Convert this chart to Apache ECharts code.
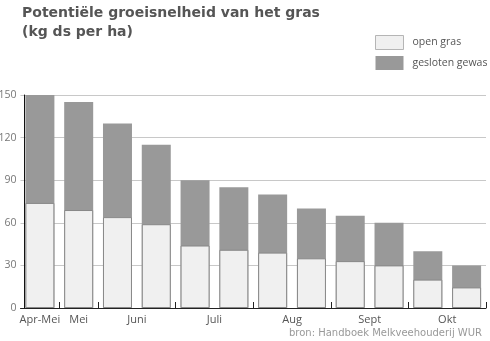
<!DOCTYPE html>
<html><head><meta charset="utf-8">
<script src="https://cdn.jsdelivr.net/npm/echarts@6/dist/echarts.min.js"></script>
<style>html,body{margin:0;padding:0;background:#fff}#c{width:490px;height:341px}</style>
</head><body><div id="c"></div>
<script>
// periods (bars)
var periods = ['apr-mei','mei','juni-1','juni-2','juli-1','juli-2','aug-1','aug-2','sept-1','sept-2','okt-1','okt-2'];
// month labels and how many bars belong to each month
var months = ['Apr-Mei','Mei','Juni','Juli','Aug','Sept','Okt'];
var monthBars = [1,1,2,2,2,2,2];
// values (kg ds per ha)
var openGras = [74,69,64,59,44,41,39,35,33,30,20,14.5];
var geslotenGewas = [150,145,130,115,90,85,80,70,65,60,40,30];
var yTicks = [0,30,60,90,120,150];

// label axis: two points per bar, label at month centre, tick at month boundaries
var labelData = [], labelAt = {}, tickAt = {0:false};
var pos = 0;
for (var i = 0; i < months.length; i++) {
  labelAt[pos + monthBars[i]] = months[i];
  pos += 2 * monthBars[i];
  tickAt[pos] = true;
}
for (var k = 0; k <= 2 * periods.length; k++) labelData.push(labelAt[k] || '');

var chart = echarts.init(document.getElementById('c'), null, {renderer:'canvas'});
var font = '"Open Sans", sans-serif';
chart.setOption({
  backgroundColor:'#fff',
  animation:false,
  title:{
    text:'Potentiële groeisnelheid van het gras\n(kg ds per ha)',
    left:22, top:4, padding:0,
    textStyle:{fontFamily:'"DejaVu Sans", Verdana, sans-serif', fontWeight:'bold', fontSize:14, color:'#555', lineHeight:19}
  },
  legend:{
    orient:'vertical', left:375, top:35, padding:0, itemWidth:28, itemHeight:14, itemGap:6,
    icon:'rect',
    textStyle:{fontFamily:font, fontSize:10.5, color:'#555', padding:[0,0,0,4]},
    data:[{name:'open gras', itemStyle:{color:'#f0f0f0', borderColor:'#b5b5b5', borderWidth:1}},
          {name:'gesloten gewas', itemStyle:{color:'#999'}}]
  },
  graphic:[{
    type:'text', right:8, bottom:3,
    style:{text:'bron: Handboek Melkveehouderij WUR', fill:'#999', font:'10px "DejaVu Sans", Verdana, sans-serif'}
  }],
  grid:{left:20.5, right:4, top:95, bottom:33, containLabel:false, outerBoundsMode:'none'},
  xAxis:[{
    type:'category', data:periods, position:'bottom',
    axisLine:{show:false}, axisTick:{show:false}, axisLabel:{show:false}
  },{
    type:'category', data:labelData, boundaryGap:false, position:'bottom',
    axisLine:{show:true, lineStyle:{color:'#222', width:1}},
    axisTick:{show:true, inside:true, length:6, lineStyle:{color:'#222'},
      interval:function(idx){return !!tickAt[idx];}},
    axisLabel:{show:true, interval:function(idx, v){return v !== '';}, color:'#555', fontFamily:font, fontSize:11, margin:6}
  }],
  yAxis:{
    type:'value', min:0, max:150, interval:30, offset:-4,
    axisLine:{show:true, lineStyle:{color:'#111', width:1}},
    axisTick:{show:false},
    axisLabel:{color:'#777', fontFamily:font, fontSize:10.5, margin:8,
      formatter:function(v){return yTicks.indexOf(v) >= 0 ? String(v) : '';}},
    splitLine:{show:true, lineStyle:{color:'#c8c8c8', width:1}}
  },
  series:[{
    name:'gesloten gewas', type:'bar', xAxisIndex:0, data:geslotenGewas, barWidth:29, barGap:'-100%',
    itemStyle:{color:'#999'}
  },{
    name:'open gras', type:'bar', xAxisIndex:0, data:openGras, barWidth:29, barGap:'-100%',
    itemStyle:{color:'#f0f0f0', borderColor:'#888', borderWidth:1}
  }]
});
</script></body></html>
